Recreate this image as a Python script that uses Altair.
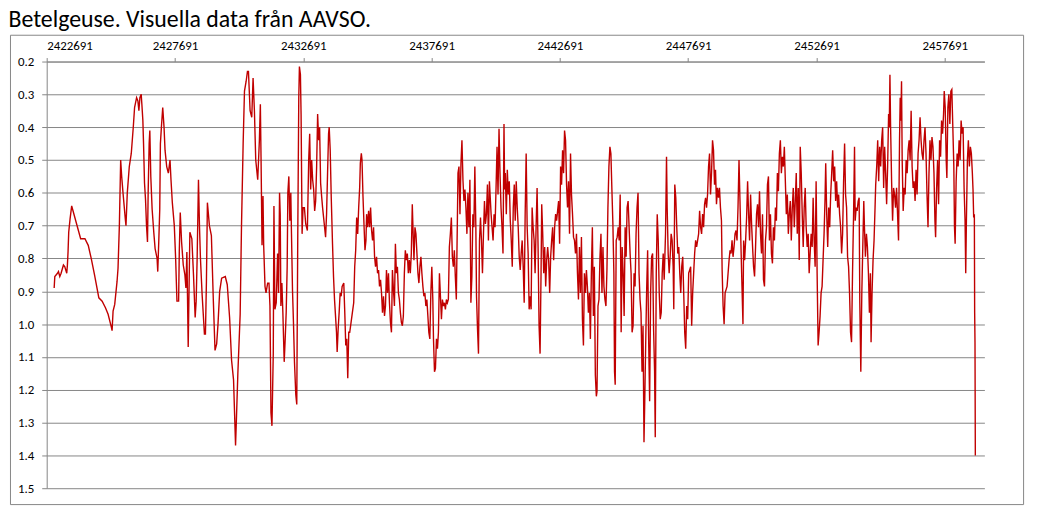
import altair as alt
import pandas as pd

TITLE = "Betelgeuse. Visuella data från AAVSO."

x_ticks = [2422691, 2427691, 2432691, 2437691, 2442691, 2447691, 2452691, 2457691]
y_ticks = [0.2, 0.3, 0.4, 0.5, 0.6, 0.7, 0.8, 0.9, 1.0, 1.1, 1.2, 1.3, 1.4, 1.5]
x_domain = [2422691, 2459235]
y_domain = [0.2, 1.5]

# 1920s - early 1940s
jd_1 = [2422982, 2423007, 2423111, 2423149, 2423201, 2423252, 2423343, 2423394, 2423472, 2423498,
        2423523, 2423549, 2423601, 2423665, 2424014, 2424181, 2424310, 2424426, 2424555, 2424723,
        2424852, 2424981, 2425084, 2425213, 2425239, 2425278, 2425342, 2425433, 2425471, 2425523,
        2425574, 2425613, 2425665, 2425755, 2425781, 2425832, 2425910, 2425987, 2426065, 2426116,
        2426194, 2426245, 2426284, 2426323, 2426374, 2426400, 2426439, 2426465, 2426503, 2426542,
        2426581, 2426619, 2426645, 2426684, 2426710, 2426748, 2426800, 2426864, 2426916, 2426993,
        2427019, 2427058, 2427097, 2427122, 2427161, 2427213, 2427264, 2427303, 2427368, 2427432,
        2427497, 2427535, 2427587, 2427664, 2427716, 2427767, 2427832, 2427858, 2427896, 2427948,
        2428013, 2428077, 2428116, 2428154, 2428206, 2428271, 2428348, 2428412, 2428477, 2428516,
        2428554, 2428606, 2428645, 2428683, 2428748, 2428838, 2428877, 2428916, 2428954, 2429032,
        2429109, 2429186, 2429251, 2429315, 2429367, 2429432, 2429509, 2429651, 2429728, 2429819,
        2429896, 2429973, 2430051, 2430089, 2430141, 2430231, 2430283, 2430347, 2430399, 2430464,
        2430515, 2430554, 2430618, 2430683, 2430734, 2430786, 2430838]
mag_1 = [0.89, 0.855, 0.845, 0.84, 0.855, 0.845, 0.82, 0.825, 0.845, 0.82,
         0.78, 0.72, 0.68, 0.64, 0.74, 0.74, 0.76, 0.80, 0.85, 0.92,
         0.93, 0.95, 0.97, 1.01, 1.02, 0.96, 0.94, 0.87, 0.83, 0.70,
         0.50, 0.55, 0.60, 0.68, 0.70, 0.60, 0.52, 0.48, 0.40, 0.34,
         0.31, 0.32, 0.35, 0.31, 0.30, 0.33, 0.38, 0.45, 0.57, 0.62,
         0.70, 0.75, 0.60, 0.45, 0.41, 0.55, 0.65, 0.72, 0.77, 0.80,
         0.84, 0.75, 0.65, 0.45, 0.40, 0.34, 0.40, 0.47, 0.52, 0.54,
         0.50, 0.56, 0.63, 0.70, 0.80, 0.93, 0.93, 0.78, 0.66, 0.75,
         0.82, 0.85, 0.89, 0.78, 1.07, 0.72, 0.74, 0.85, 0.98, 0.93,
         0.80, 0.56, 0.70, 0.80, 0.91, 1.03, 1.03, 0.87, 0.63, 0.70,
         0.73, 0.93, 1.08, 1.06, 1.00, 0.90, 0.86, 0.855, 0.88, 0.98,
         1.11, 1.17, 1.37, 1.28, 1.15, 0.97, 0.70, 0.45, 0.29, 0.26,
         0.23, 0.23, 0.35, 0.37, 0.25, 0.35, 0.50]

# 1943 - 1966
jd_2 = [2430915, 2430980, 2431018, 2431044, 2431083, 2431121, 2431147, 2431199, 2431238, 2431302,
        2431354, 2431392, 2431431, 2431470, 2431521, 2431547, 2431586, 2431637, 2431689, 2431728,
        2431766, 2431792, 2431818, 2431857, 2431895, 2431947, 2431986, 2432024, 2432063, 2432089,
        2432128, 2432166, 2432205, 2432231, 2432270, 2432308, 2432347, 2432399, 2432437, 2432476,
        2432515, 2432540, 2432579, 2432605, 2432644, 2432682, 2432734, 2432786, 2432850, 2432902,
        2432940, 2432979, 2433018, 2433056, 2433095, 2433134, 2433173, 2433211, 2433250, 2433289,
        2433327, 2433366, 2433405, 2433443, 2433482, 2433521, 2433560, 2433598, 2433637, 2433676,
        2433701, 2433740, 2433779, 2433830, 2433869, 2433908, 2433947, 2433985, 2434011, 2434050,
        2434088, 2434127, 2434166, 2434205, 2434269, 2434308, 2434346, 2434385, 2434424, 2434463,
        2434501, 2434553, 2434604, 2434656, 2434695, 2434733, 2434772, 2434811, 2434850, 2434888,
        2434914, 2434953, 2434979, 2435017, 2435056, 2435095, 2435133, 2435159, 2435198, 2435237,
        2435275, 2435314, 2435353, 2435391, 2435430, 2435469, 2435507, 2435546, 2435585, 2435624,
        2435662, 2435701, 2435740, 2435778, 2435817, 2435856, 2435894, 2435933, 2435972, 2436011,
        2436049, 2436088, 2436127, 2436165, 2436204, 2436243, 2436281, 2436320, 2436359, 2436398,
        2436436, 2436475, 2436514, 2436552, 2436591, 2436630, 2436668, 2436707, 2436746, 2436785,
        2436823, 2436862, 2436901, 2436939, 2436965, 2437004, 2437043, 2437081, 2437120, 2437159,
        2437197, 2437236, 2437275, 2437313, 2437352, 2437391, 2437430, 2437468, 2437507, 2437546,
        2437584, 2437623, 2437662, 2437700, 2437739, 2437765, 2437804, 2437842, 2437881, 2437920,
        2437958, 2437997, 2438036, 2438075, 2438113, 2438152, 2438191, 2438229, 2438268, 2438307,
        2438345, 2438384, 2438423, 2438462, 2438500, 2438539, 2438578, 2438616, 2438655, 2438694,
        2438720, 2438758, 2438797, 2438836, 2438874, 2438913, 2438952, 2438990, 2439029, 2439068,
        2439107, 2439145, 2439184, 2439223, 2439261, 2439300, 2439339, 2439377, 2439416]
mag_2 = [0.56, 0.44, 0.33, 0.49, 0.76, 0.61, 0.76, 0.885, 0.905, 0.875,
         0.875, 0.945, 1.27, 1.31, 1.09, 0.64, 0.955, 0.935, 0.785, 0.905,
         0.60, 0.665, 0.945, 0.875, 0.965, 1.115, 1.045, 0.965, 0.825, 0.60,
         0.55, 0.685, 0.60, 0.725, 0.895, 0.995, 1.115, 1.215, 1.245, 0.725,
         0.31, 0.215, 0.24, 0.36, 0.725, 0.645, 0.645, 0.695, 0.715, 0.50,
         0.42, 0.59, 0.50, 0.56, 0.59, 0.655, 0.625, 0.52, 0.36, 0.44,
         0.40, 0.57, 0.61, 0.645, 0.675, 0.705, 0.735, 0.665, 0.54, 0.42,
         0.40, 0.47, 0.61, 0.755, 0.855, 0.925, 0.975, 1.025, 1.085, 1.015,
         0.965, 0.905, 0.915, 0.885, 0.875, 0.965, 1.065, 1.045, 1.165, 1.025,
         1.025, 0.995, 0.965, 0.935, 0.825, 0.775, 0.675, 0.725, 0.645, 0.585,
         0.51, 0.48, 0.50, 0.61, 0.695, 0.775, 0.745, 0.665, 0.705, 0.655,
         0.705, 0.645, 0.715, 0.745, 0.705, 0.795, 0.825, 0.795, 0.845, 0.835,
         0.885, 0.865, 0.905, 0.965, 0.915, 0.975, 0.945, 0.835, 0.905, 0.845,
         0.935, 0.995, 1.025, 0.835, 0.895, 0.945, 0.755, 0.845, 0.825, 0.905,
         0.925, 0.965, 0.995, 1.005, 0.975, 0.845, 0.775, 0.805, 0.785, 0.845,
         0.805, 0.845, 0.785, 0.635, 0.705, 0.805, 0.705, 0.725, 0.785, 0.845,
         0.875, 0.825, 0.795, 0.845, 0.885, 0.915, 0.905, 0.945, 0.925, 0.975,
         1.025, 1.045, 0.905, 0.825, 0.925, 1.045, 1.145, 1.135, 1.045, 1.075,
         1.025, 0.845, 0.915, 0.985, 0.925, 0.945, 0.935, 0.955, 0.925, 0.935,
         0.925, 0.765, 0.725, 0.675, 0.795, 0.825, 0.775, 0.855, 0.925, 0.695,
         0.54, 0.52, 0.665, 0.51, 0.44, 0.56, 0.625, 0.59, 0.645, 0.725,
         0.60, 0.705, 0.56, 0.935, 0.855, 0.665, 0.705, 0.52, 0.705]

# 1966 - 1986
jd_3 = [2439442, 2439481, 2439519, 2439558, 2439597, 2439635, 2439674, 2439713, 2439752, 2439790,
        2439829, 2439868, 2439906, 2439945, 2439971, 2440010, 2440048, 2440087, 2440126, 2440164,
        2440203, 2440242, 2440280, 2440319, 2440358, 2440397, 2440435, 2440474, 2440513, 2440538,
        2440564, 2440603, 2440642, 2440680, 2440719, 2440758, 2440796, 2440835, 2440874, 2440913,
        2440951, 2440990, 2441029, 2441067, 2441106, 2441145, 2441183, 2441222, 2441261, 2441300,
        2441338, 2441377, 2441416, 2441454, 2441493, 2441532, 2441570, 2441609, 2441648, 2441687,
        2441725, 2441764, 2441803, 2441841, 2441880, 2441919, 2441957, 2441983, 2442022, 2442061,
        2442099, 2442138, 2442177, 2442215, 2442254, 2442293, 2442332, 2442370, 2442409, 2442448,
        2442486, 2442525, 2442564, 2442602, 2442641, 2442680, 2442719, 2442757, 2442796, 2442835,
        2442873, 2442912, 2442951, 2442989, 2443028, 2443067, 2443106, 2443144, 2443183, 2443222,
        2443260, 2443299, 2443338, 2443376, 2443415, 2443454, 2443493, 2443531, 2443570, 2443609,
        2443647, 2443686, 2443725, 2443763, 2443802, 2443841, 2443880, 2443918, 2443957, 2443996,
        2444034, 2444073, 2444112, 2444138, 2444176, 2444215, 2444254, 2444292, 2444331, 2444370,
        2444408, 2444447, 2444486, 2444525, 2444563, 2444602, 2444641, 2444679, 2444718, 2444757,
        2444795, 2444821, 2444847, 2444886, 2444924, 2444963, 2445002, 2445041, 2445079, 2445118,
        2445157, 2445195, 2445234, 2445273, 2445311, 2445350, 2445389, 2445428, 2445466, 2445505,
        2445544, 2445582, 2445621, 2445660, 2445698, 2445737, 2445776, 2445815, 2445853, 2445892,
        2445931, 2445969, 2445995, 2446034, 2446073, 2446111, 2446150, 2446189, 2446227, 2446266,
        2446305, 2446343, 2446382, 2446408, 2446447, 2446485, 2446524, 2446563, 2446601, 2446640,
        2446679, 2446718, 2446756]
mag_3 = [0.915, 1.015, 1.09, 0.745, 0.675, 0.745, 0.845, 0.725, 0.625, 0.695,
         0.665, 0.575, 0.745, 0.565, 0.605, 0.665, 0.705, 0.745, 0.665, 0.705,
         0.585, 0.46, 0.605, 0.405, 0.54, 0.645, 0.705, 0.785, 0.39, 0.59,
         0.54, 0.665, 0.53, 0.605, 0.565, 0.685, 0.745, 0.825, 0.645, 0.575,
         0.685, 0.565, 0.645, 0.705, 0.795, 0.835, 0.785, 0.745, 0.825, 0.935,
         0.665, 0.48, 0.705, 0.785, 0.955, 0.915, 0.955, 0.645, 0.705, 0.745,
         0.845, 0.705, 0.585, 0.765, 1.005, 1.09, 0.845, 0.635, 0.725, 0.845,
         0.765, 0.885, 0.805, 0.765, 0.805, 0.905, 0.795, 0.745, 0.705, 0.805,
         0.705, 0.665, 0.685, 0.655, 0.625, 0.755, 0.52, 0.575, 0.47, 0.54,
         0.41, 0.44, 0.575, 0.645, 0.565, 0.725, 0.48, 0.605, 0.665, 0.735,
         0.745, 0.785, 0.725, 0.845, 0.925, 0.765, 0.905, 0.735, 0.985, 1.065,
         0.845, 0.905, 0.835, 0.885, 0.965, 0.905, 1.045, 0.845, 0.705, 0.975,
         0.825, 1.155, 1.22, 1.205, 0.945, 0.925, 0.795, 0.725, 0.905, 0.765,
         0.885, 0.925, 0.945, 0.835, 0.645, 0.52, 0.46, 0.48, 0.59, 0.695,
         0.845, 1.145, 1.185, 0.745, 0.735, 0.705, 0.745, 0.605, 1.025, 0.765,
         0.845, 0.975, 0.705, 0.795, 0.645, 0.625, 0.705, 0.785, 0.845, 1.025,
         1.005, 0.845, 0.885, 0.725, 0.645, 0.60, 0.845, 0.925, 0.965, 1.145,
         1.005, 1.36, 1.25, 1.065, 0.895, 0.775, 1.045, 1.235, 0.905, 0.795,
         0.785, 1.015, 1.145, 1.345, 0.845, 0.665, 0.745, 0.905, 0.985, 0.965,
         0.845, 0.785, 0.865]

# 1986 - 2007
jd_4 = [2446808, 2446847, 2446872, 2446911, 2446950, 2446988, 2447027, 2447066, 2447105, 2447130,
        2447169, 2447208, 2447246, 2447285, 2447324, 2447363, 2447401, 2447440, 2447479, 2447517,
        2447556, 2447595, 2447633, 2447672, 2447711, 2447750, 2447788, 2447827, 2447866, 2447904,
        2447943, 2447982, 2448020, 2448059, 2448098, 2448137, 2448175, 2448214, 2448253, 2448291,
        2448330, 2448369, 2448407, 2448446, 2448485, 2448524, 2448562, 2448601, 2448640, 2448678,
        2448717, 2448756, 2448794, 2448833, 2448872, 2448911, 2448949, 2448988, 2449014, 2449052,
        2449091, 2449130, 2449169, 2449207, 2449246, 2449285, 2449323, 2449362, 2449401, 2449439,
        2449478, 2449517, 2449556, 2449594, 2449633, 2449672, 2449710, 2449749, 2449788, 2449826,
        2449852, 2449891, 2449930, 2449968, 2450007, 2450046, 2450084, 2450123, 2450162, 2450201,
        2450239, 2450278, 2450317, 2450355, 2450394, 2450433, 2450471, 2450510, 2450549, 2450588,
        2450626, 2450665, 2450704, 2450742, 2450781, 2450820, 2450858, 2450897, 2450936, 2450975,
        2451013, 2451052, 2451091, 2451129, 2451168, 2451207, 2451245, 2451284, 2451323, 2451362,
        2451400, 2451439, 2451478, 2451516, 2451555, 2451594, 2451632, 2451671, 2451710, 2451749,
        2451787, 2451826, 2451865, 2451903, 2451942, 2451981, 2452019, 2452058, 2452097, 2452136,
        2452174, 2452213, 2452252, 2452290, 2452329, 2452368, 2452406, 2452445, 2452484, 2452523,
        2452561, 2452600, 2452639, 2452677, 2452716, 2452755, 2452793, 2452832, 2452871, 2452910,
        2452948, 2452987, 2453026, 2453051, 2453090, 2453129, 2453168, 2453206, 2453245, 2453284,
        2453322, 2453361, 2453400, 2453438, 2453477, 2453516, 2453555, 2453593, 2453632, 2453671,
        2453709, 2453748, 2453787, 2453825, 2453864, 2453903, 2453942, 2453980, 2454019, 2454058,
        2454096, 2454135]
mag_4 = [0.725, 0.49, 0.645, 0.785, 0.845, 0.795, 0.725, 0.745, 0.825, 0.955,
         0.575, 0.615, 0.705, 0.785, 0.765, 0.845, 0.905, 0.825, 0.795, 0.905,
         1.025, 1.075, 0.945, 0.985, 0.845, 0.835, 0.825, 1.005, 0.905, 0.845,
         0.785, 0.745, 0.765, 0.745, 0.725, 0.655, 0.705, 0.725, 0.665, 0.705,
         0.635, 0.615, 0.645, 0.605, 0.52, 0.48, 0.605, 0.54, 0.44, 0.47,
         0.575, 0.53, 0.635, 0.585, 0.615, 0.585, 0.645, 0.685, 0.835, 0.945,
         1.00, 0.905, 0.895, 0.885, 0.845, 0.805, 0.775, 0.785, 0.745, 0.795,
         0.765, 0.725, 0.715, 0.745, 0.645, 0.50, 0.625, 0.765, 0.885, 1.00,
         0.745, 0.805, 0.745, 0.675, 0.565, 0.665, 0.745, 0.605, 0.695, 0.765,
         0.825, 0.855, 0.765, 0.665, 0.635, 0.705, 0.595, 0.725, 0.785, 0.665,
         0.865, 0.885, 0.745, 0.705, 0.575, 0.55, 0.745, 0.665, 0.785, 0.815,
         0.705, 0.745, 0.645, 0.685, 0.54, 0.595, 0.48, 0.44, 0.54, 0.49,
         0.52, 0.46, 0.565, 0.665, 0.605, 0.725, 0.665, 0.625, 0.745, 0.645,
         0.585, 0.705, 0.625, 0.54, 0.725, 0.585, 0.805, 0.46, 0.54, 0.665,
         0.765, 0.645, 0.585, 0.705, 0.765, 0.725, 0.845, 0.785, 0.725, 0.765,
         0.615, 0.745, 0.825, 0.565, 0.845, 1.065, 1.025, 0.975, 0.905, 0.885,
         0.805, 0.725, 0.615, 0.51, 0.665, 0.765, 0.645, 0.705, 0.605, 0.54,
         0.47, 0.565, 0.52, 0.625, 0.565, 0.645, 0.605, 0.665, 0.705, 0.785,
         0.725, 0.565, 0.45, 0.605, 0.645, 0.795, 0.825, 0.905, 1.025, 1.055,
         0.845, 0.675]

# 2007 - 2020
jd_5 = [2454174, 2454200, 2454238, 2454277, 2454316, 2454354, 2454380, 2454419, 2454458, 2454496,
        2454535, 2454561, 2454599, 2454638, 2454677, 2454716, 2454754, 2454793, 2454819, 2454857,
        2454896, 2454935, 2454974, 2454999, 2455038, 2455077, 2455115, 2455154, 2455193, 2455232,
        2455270, 2455309, 2455348, 2455386, 2455425, 2455464, 2455502, 2455528, 2455554, 2455580,
        2455619, 2455657, 2455696, 2455735, 2455773, 2455812, 2455851, 2455889, 2455928, 2455954,
        2455980, 2456006, 2456031, 2456070, 2456109, 2456147, 2456186, 2456225, 2456264, 2456302,
        2456341, 2456380, 2456418, 2456457, 2456496, 2456534, 2456573, 2456612, 2456651, 2456689,
        2456728, 2456767, 2456805, 2456844, 2456883, 2456921, 2456960, 2456999, 2457038, 2457076,
        2457115, 2457154, 2457192, 2457231, 2457270, 2457308, 2457334, 2457373, 2457412, 2457450,
        2457489, 2457528, 2457566, 2457605, 2457644, 2457670, 2457708, 2457747, 2457773, 2457812,
        2457850, 2457889, 2457928, 2457966, 2458005, 2458044, 2458070, 2458095, 2458134, 2458173,
        2458211, 2458250, 2458289, 2458328, 2458366, 2458405, 2458444, 2458482, 2458508, 2458534,
        2458573, 2458611, 2458650, 2458689, 2458727, 2458766, 2458792, 2458818, 2458844, 2458856,
        2458869, 2458882]
mag_5 = [0.46, 0.685, 0.645, 0.655, 0.625, 0.615, 0.935, 1.145, 0.905, 0.765,
         0.625, 0.705, 0.795, 0.725, 0.765, 0.845, 0.965, 0.845, 1.055, 0.905,
         0.805, 0.745, 0.645, 0.575, 0.52, 0.44, 0.565, 0.46, 0.52, 0.44,
         0.40, 0.585, 0.46, 0.54, 0.635, 0.52, 0.36, 0.40, 0.24, 0.40,
         0.565, 0.685, 0.585, 0.605, 0.645, 0.585, 0.665, 0.745, 0.44, 0.31,
         0.38, 0.26, 0.50, 0.655, 0.585, 0.605, 0.50, 0.54, 0.47, 0.44,
         0.50, 0.35, 0.52, 0.585, 0.565, 0.625, 0.53, 0.605, 0.48, 0.44,
         0.37, 0.44, 0.48, 0.50, 0.44, 0.40, 0.48, 0.605, 0.705, 0.54,
         0.44, 0.50, 0.43, 0.46, 0.54, 0.685, 0.735, 0.585, 0.50, 0.635,
         0.44, 0.49, 0.38, 0.42, 0.36, 0.29, 0.34, 0.50, 0.555, 0.34,
         0.30, 0.39, 0.29, 0.285, 0.40, 0.52, 0.705, 0.755, 0.565, 0.48,
         0.52, 0.44, 0.50, 0.38, 0.42, 0.40, 0.585, 0.685, 0.845, 0.685,
         0.50, 0.44, 0.52, 0.46, 0.48, 0.54, 0.59, 0.675, 0.665, 0.965,
         1.055, 1.40]

segments = [(jd_1, mag_1), (jd_2, mag_2), (jd_3, mag_3), (jd_4, mag_4), (jd_5, mag_5)]
rows = []
for jds, mags in segments:
    for j, m in zip(jds, mags):
        rows.append({"jd": j, "mag": m})
df = pd.DataFrame(rows)

FONT = "Calibri, Carlito, Lato, sans-serif"
GREY = "#868686"
W, H = 945, 430

line = alt.Chart(df).mark_line(color="#C00000", strokeWidth=1.4).encode(
    x=alt.X("jd:Q",
            scale=alt.Scale(domain=x_domain, nice=False, zero=False),
            axis=alt.Axis(orient="top", values=x_ticks, format="d", title=None, grid=False,
                          domainColor=GREY, tickColor=GREY, tickSize=4, labelPadding=5,
                          labelFont=FONT, labelFontSize=13, labelColor="#000000")),
    y=alt.Y("mag:Q",
            scale=alt.Scale(domain=y_domain, reverse=True, nice=False, zero=False),
            axis=alt.Axis(values=y_ticks, format=".1f", title=None, grid=True,
                          gridColor=GREY, gridOpacity=1, domainColor=GREY, tickColor=GREY,
                          tickSize=5, labelPadding=8, labelFont=FONT, labelFontSize=13,
                          labelColor="#000000")),
)

one_row = pd.DataFrame({"k": [0]})
border = alt.Chart(one_row).mark_rect(fill=None, stroke=GREY, strokeWidth=1).encode(
    x=alt.value(-36.5), x2=alt.value(984.5), y=alt.value(-26.5), y2=alt.value(446.5)
)
title = alt.Chart(one_row).mark_text(
    text=TITLE, font=FONT, fontSize=24, color="#000000", align="left", baseline="alphabetic"
).encode(x=alt.value(-38.5), y=alt.value(-35))

chart = alt.layer(border, line, title).properties(
    width=W, height=H,
    autosize=alt.AutoSizeParams(type="none"),
    padding={"left": 39, "top": 52, "right": 50, "bottom": 20},
).configure_view(stroke=None)

chart.save("out.html", embed_options={"renderer": "svg", "actions": False})
